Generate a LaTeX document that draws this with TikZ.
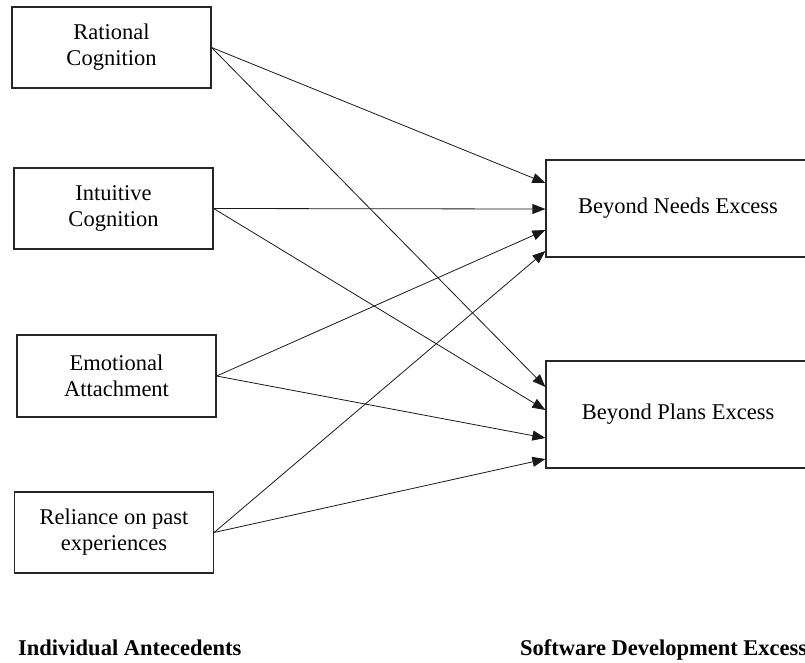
\documentclass[tikz,border=0pt]{standalone}
\usepackage{fontspec}
\setmainfont{Liberation Serif}
\usetikzlibrary{arrows.meta}

\begin{document}
\begin{tikzpicture}[x=1pt,y=-1pt]
\tikzstyle{antecedent} = [rectangle, draw=black!85, line width=1.2pt, inner sep=0pt, minimum width=199pt, minimum height=81pt, align=center, font=\fontsize{22.5}{26}\selectfont]
\tikzstyle{excess} = [rectangle, draw=black!85, line width=1.2pt, inner sep=0pt, minimum width=264pt, align=center, font=\fontsize{22.5}{26}\selectfont]
\tikzstyle{heading} = [anchor=base west, inner sep=0pt, font=\fontsize{22.5}{26}\selectfont\bfseries]
\tikzstyle{arrow} = [-{Triangle[length=13pt,width=10pt]}, line width=0.8pt, draw=black!90]

\clip (0,0) rectangle (805,662);

\node(rationalCognition) [antecedent] at (111.5,47.5) {Rational\\Cognition};
\node(intuitiveCognition) [antecedent] at (113.5,208.5) {Intuitive\\Cognition};
\node(emotionalAttachment) [antecedent, minimum height=82pt] at (116.5,376) {Emotional\\Attachment};
\node(pastExperiences) [antecedent] at (114,532.5) {Reliance on past\\experiences};

\node(needsExcess) [excess, minimum height=97pt] at (678,208.5) {Beyond Needs Excess};
\node(plansExcess) [excess, minimum height=107pt] at (678,414.5) {Beyond Plans Excess};

\node(antecedentsLabel) [heading] at (18,655) {Individual Antecedents};
\node(excessLabel) [heading] at (520,655) {Software Development Excess};

\draw[arrow] (rationalCognition.east) -- ([yshift=25.5pt]needsExcess.west);
\draw[arrow] (intuitiveCognition.east) -- ([yshift=-0.5pt]needsExcess.west);
\draw[arrow] (emotionalAttachment.east) -- ([yshift=-21.5pt]needsExcess.west);
\draw[arrow] (pastExperiences.east) -- ([yshift=-42.5pt]needsExcess.west);

\draw[arrow] (rationalCognition.east) -- ([yshift=27.5pt]plansExcess.west);
\draw[arrow] (intuitiveCognition.east) -- ([yshift=4.5pt]plansExcess.west);
\draw[arrow] (emotionalAttachment.east) -- ([yshift=-23.5pt]plansExcess.west);
\draw[arrow] (pastExperiences.east) -- ([yshift=-44.5pt]plansExcess.west);
\end{tikzpicture}
\end{document}
